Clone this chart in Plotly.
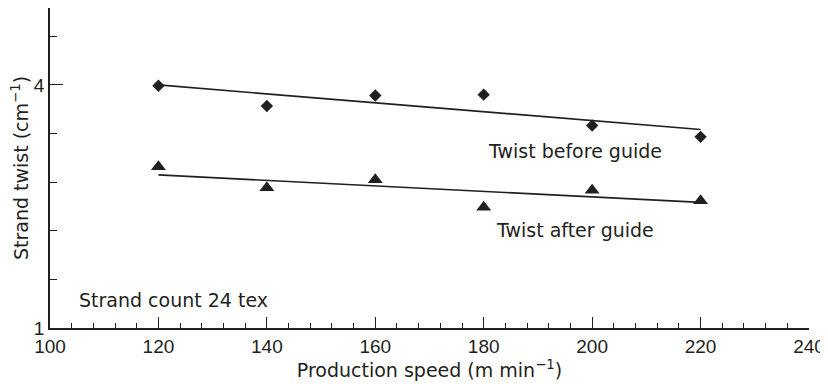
import plotly.graph_objects as go

speed = [120, 140, 160, 180, 200, 220]
twist_before = [3.99, 3.74, 3.87, 3.88, 3.50, 3.36]
twist_after = [2.99, 2.73, 2.83, 2.49, 2.70, 2.57]

# fitted lines at their end points
fit_x = [120, 220]
fit_before = [4.00, 3.45]
fit_after = [2.89, 2.55]

y_ticks = [1, 4]
y_labels = ["1", "4"]

text_font = "DejaVu Sans, Verdana, sans-serif"
num_font = "Liberation Sans, Arial, sans-serif"
ink = "#231f20"

fig = go.Figure()
fig.add_trace(go.Scatter(x=fit_x, y=fit_before, mode="lines",
                         line=dict(color=ink, width=1.7), showlegend=False))
fig.add_trace(go.Scatter(x=fit_x, y=fit_after, mode="lines",
                         line=dict(color=ink, width=1.7), showlegend=False))
fig.add_trace(go.Scatter(x=speed, y=twist_before, mode="markers",
                         marker=dict(symbol="diamond", size=9.5, color=ink),
                         showlegend=False))
fig.add_trace(go.Scatter(x=speed, y=twist_after, mode="markers",
                         marker=dict(symbol="triangle-up", size=13, color=ink),
                         showlegend=False))

labels = [
    (196.9, 3.19, "Twist before guide", "center"),
    (196.9, 2.21, "Twist after guide", "center"),
    (104.9, 1.34, "Strand count 24 tex", "left"),
]
for lx, ly, txt, anchor in labels:
    fig.add_annotation(x=lx, y=ly, text=txt, showarrow=False,
                       xanchor=anchor, yanchor="middle",
                       font=dict(family=text_font, size=19, color=ink))

# the page body adds an 8px offset, so the figure is sized/margined to compensate
fig.update_layout(
    width=820, height=376,
    margin=dict(l=42, r=19, t=0, b=56),
    paper_bgcolor="white", plot_bgcolor="white",
    font=dict(family=text_font, size=19, color=ink),
    xaxis=dict(
        range=[100, 240], tick0=100, dtick=20, automargin=False,
        tickfont=dict(family=num_font, size=19, color=ink),
        ticks="inside", ticklen=11, tickwidth=1.3, tickcolor=ink,
        minor=dict(dtick=4, ticks="inside", ticklen=5, tickwidth=1, tickcolor=ink),
        showline=True, linecolor=ink, linewidth=1.6, showgrid=False, zeroline=False,
        title=dict(text="Production speed (m min<sup>−1</sup>)", standoff=2,
                   font=dict(family=text_font, size=19, color=ink)),
    ),
    yaxis=dict(
        range=[1, 4.95], tickvals=y_ticks, ticktext=y_labels, automargin=False,
        tickfont=dict(family=num_font, size=19, color=ink),
        ticks="inside", ticklen=13, tickwidth=1.3, tickcolor=ink,
        minor=dict(tick0=1, dtick=0.6, ticks="inside", ticklen=7, tickwidth=1, tickcolor=ink),
        showline=True, linecolor=ink, linewidth=1.6, showgrid=False, zeroline=False,
        title=dict(text="Strand twist (cm<sup>−1</sup>)", standoff=4,
                   font=dict(family=text_font, size=19, color=ink)),
    ),
)

fig.write_html("out.html")
